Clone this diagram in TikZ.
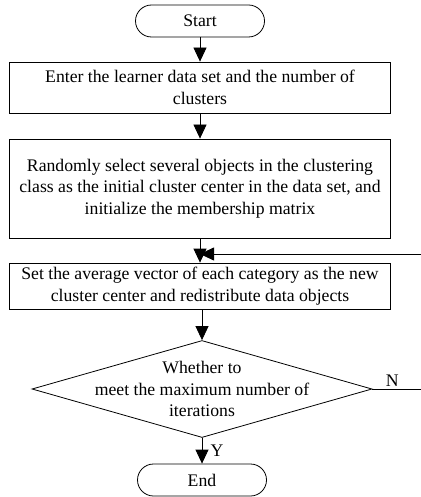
\documentclass[tikz,border=0pt]{standalone}
\usepackage{fontspec}
\setmainfont{Liberation Serif}
\usetikzlibrary{arrows.meta,positioning,shapes.geometric}
\tikzset{
  terminal/.style={draw=black,rounded corners=16pt,minimum width=129pt,minimum height=32pt,inner sep=0pt,line width=.8pt},
  process/.style={draw=black,align=center,minimum width=381pt,inner sep=0pt,line width=.8pt},
  decision/.style={draw=black,diamond,minimum width=340pt,minimum height=97pt,inner sep=0pt,line width=.8pt},
  flow/.style={-{Triangle[length=14pt,width=13pt]},line width=.8pt},
}

\begin{document}
\begin{tikzpicture}[x=1pt,y=1pt,font=\fontsize{17.7}{21.5}\selectfont]
    \useasboundingbox (0,0) rectangle (420,-497);
    \node[terminal] (start) at (200,-21) {Start};
    \node[process,minimum height=51pt] (input) at (200,-87.5) {Enter the learner data set and the number of\\clusters};
    \node[process,minimum height=99pt] (init) at (200,-188.5) {Randomly select several objects in the clustering\\class as the initial cluster center in the data set, and\\initialize the membership matrix};
    \node[process,minimum height=46pt] (update) at (200,-286) {Set the average vector of each category as the new\\cluster center and redistribute data objects};
    \node[decision] (check) at (202,-389) {};
    \node[align=center,inner sep=0pt] (checktext) at (check) {Whether to\\meet the maximum number of\\iterations};
    \node[terminal] (stop) at (202,-480) {End};
    \coordinate (join) at (200,-254);
    \draw[flow] (start)--(input);
    \draw[flow] (input)--(init);
    \draw[flow] (init)--(update);
    \draw[flow] (update.south-|check)--(check);
    \draw[flow] (check)--(stop) node[midway,right=5pt] {Y};
    \draw[flow] (check.east)--node[above,pos=.33,inner sep=2pt] {N} ++(60,0) |- (join);
  \end{tikzpicture}
\end{document}
